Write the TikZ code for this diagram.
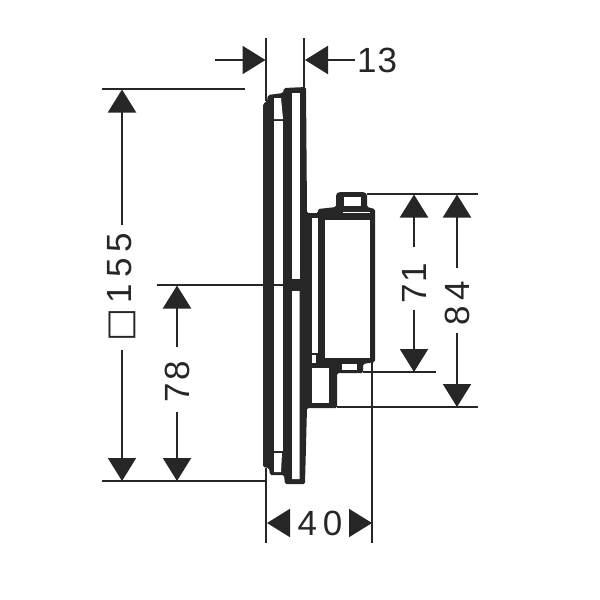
\documentclass[tikz,border=0pt]{standalone}
\usepackage{fontspec}
\setmainfont{Liberation Sans}
\newfontfamily\symfont{DejaVu Sans}
\usetikzlibrary{arrows.meta}
\definecolor{inkdark}{RGB}{38,38,38}
\tikzstyle{ext} = [line width=2.1pt, draw=inkdark]
\tikzstyle{dim} = [line width=2.1pt, draw=inkdark, -{Triangle[length=23pt,width=28pt]}]
\tikzstyle{label} = [inner sep=0pt, text=inkdark, font=\fontsize{35}{35}\selectfont]
\tikzstyle{solid} = [fill=inkdark, rounded corners=1.5pt]
\tikzstyle{hole} = [fill=white]

\begin{document}
\begin{tikzpicture}
	[x=1pt, y=-1pt]
	\useasboundingbox (0,0) rectangle (600,600);

	% plate
	\fill [solid] (263,467) -- (263,104) -- (267,101) -- (268,95) -- (283,93) -- (284,88) -- (306,87) -- (307,213) -- (318,213) -- (318,209) -- (336,207) -- (336,194) -- (339,192) -- (364,192) -- (367,194) -- (367,207) -- (375,209) -- (375,362) -- (363,364) -- (363,373) -- (337,373) -- (337,408) -- (307,408) -- (305,484) -- (285,484) -- (284,475) -- (270,475) -- (269,468) -- cycle;
	\fill [hole] (274,98) -- (281,98) -- (283,119) -- (274,119) -- cycle;
	\fill [hole] (274,121) -- (283,121) -- (283,451) -- (274,451) -- cycle;
	\fill [hole] (274,453) -- (282,453) -- (281,472) -- (274,472) -- cycle;
	\fill [hole] (292,93) rectangle (299.5,279);
	\fill [hole] (292,291) -- (299.5,291) -- (299.5,410) -- (299.5,479) -- (292,479) -- cycle;
	% body
	\fill [hole] (312,218) rectangle (318,353);
	\fill [hole] (312,355) rectangle (316,363);
	\fill [hole] (312,368) rectangle (329,403);
	\fill [hole] (325,220) rectangle (370,358);
	\fill [hole] (344,197) rectangle (361,206);
	\fill [hole] (343,211.5) rectangle (370,213);
	\fill [hole] (342,364) rectangle (357,370);

	% dimension points
	\coordinate (left top) at (266,38);
	\coordinate (left foot) at (266,101);
	\coordinate (left low) at (266,468);
	\coordinate (left end) at (266,543);
	\coordinate (right top) at (304,38);
	\coordinate (right foot) at (304,88);
	\coordinate (edge low) at (372,362);
	\coordinate (edge end) at (372,543);

	\draw [ext] (left top) -- (left foot);
	\draw [ext] (left low) -- (left end);
	\draw [ext] (right top) -- (right foot);
	\draw [ext] (edge low) -- (edge end);
	\draw [ext] (102,89) -- (245,89);
	\draw [ext] (102,481) -- (265,481);
	\draw [ext] (157,285) -- (284,285);
	\draw [ext] (367,194) -- (478,194);
	\draw [ext] (363,372) -- (436,372);
	\draw [ext] (337,407) -- (478,407);

	% labels
	\node (t13) [label, anchor=west] at (357,60) {1\kern1pt 3};
	\node (t40) [label] at (320,523) {4\,0};
	\node (t71) [label, rotate=90] at (414,283) {7\kern2pt 1};
	\node (t84) [label, rotate=90] at (457,303) {8\,4};
	\node (t78) [label, rotate=90] at (177,382) {7\kern3pt 8};
	\node (t155) [label, rotate=90] at (122,287.5) {{\symfont □}\,1\,5\,5};

	% arrows
	\draw [dim] (215,60) -- (265.5,60);
	\draw [dim] (355,60) -- (305,60);
	\draw [dim] (122,225) -- (122,89.5);
	\draw [dim] (122,350) -- (122,481);
	\draw [dim] (177,347) -- (177,285.5);
	\draw [dim] (177,412) -- (177,481);
	\draw [dim] (414,247) -- (414,194.5);
	\draw [dim] (414,310) -- (414,372);
	\draw [dim] (457,268) -- (457,194.5);
	\draw [dim] (457,333) -- (457,407);
	\draw [dim] (290,523) -- (267,523);
	\draw [dim] (350,523) -- (372,523);
\end{tikzpicture}
\end{document}
